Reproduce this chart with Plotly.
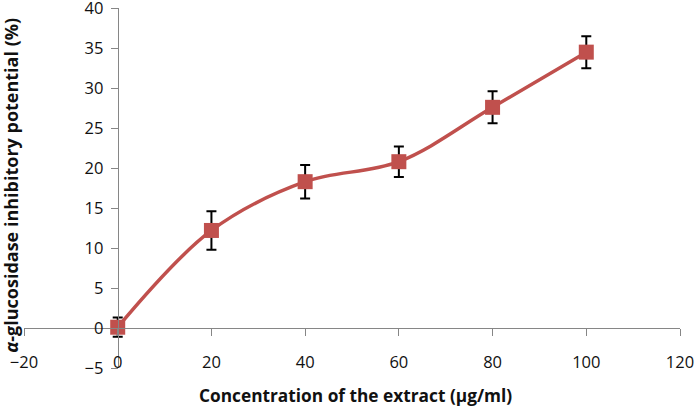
import plotly.graph_objects as go

concentration = [0, 20, 40, 60, 80, 100]
inhibition = [0.1, 12.2, 18.3, 20.8, 27.6, 34.5]
error = [1.2, 2.4, 2.1, 1.9, 2.0, 2.0]

x_ticks = [-20, 0, 20, 40, 60, 80, 100, 120]
y_ticks = [-5, 0, 5, 10, 15, 20, 25, 30, 35, 40]

red = "#C0504D"
axis_gray = "#868686"
font_family = "Open Sans, Liberation Sans, sans-serif"

fig = go.Figure()

fig.add_trace(go.Scatter(
    x=concentration, y=inhibition,
    mode="lines+markers",
    line=dict(color=red, width=3.5, shape="spline", smoothing=1.0),
    marker=dict(symbol="square", size=15, color=red),
    error_y=dict(type="data", array=error, visible=True,
                 color="black", thickness=2, width=5),
    showlegend=False,
))

# invisible trace to attach the axis line drawn through y=0
fig.add_trace(go.Scatter(
    x=concentration, y=inhibition, xaxis="x2", mode="none",
    showlegend=False, hoverinfo="skip",
))

fig.update_layout(
    width=695, height=407, autosize=False,
    margin=dict(l=24, r=15, t=8, b=39, autoexpand=False),
    plot_bgcolor="white", paper_bgcolor="white",
    font=dict(family=font_family, size=16.5, color="#111111"),
    xaxis=dict(
        range=[-20, 120], tickmode="array", tickvals=x_ticks,
        ticktext=["\u221220" if v < 0 else str(v) for v in x_ticks],
        showline=False, ticks="", showgrid=False, zeroline=False,
        ticklabelstandoff=-18, automargin=False,
    ),
    xaxis2=dict(
        overlaying="x", matches="x", anchor="free", position=5 / 45,
        range=[-20, 120], tickmode="array", tickvals=x_ticks,
        showline=True, linecolor=axis_gray, linewidth=1,
        ticks="outside", ticklen=7, tickcolor=axis_gray,
        showticklabels=False, showgrid=False, zeroline=False,
        automargin=False,
    ),
    yaxis=dict(
        range=[-5, 40.02], tickmode="array", tickvals=y_ticks,
        ticktext=["\u22125" if v < 0 else str(v) for v in y_ticks],
        anchor="free", position=20 / 140,
        showline=True, linecolor=axis_gray, linewidth=1,
        ticks="outside", ticklen=7, tickcolor=axis_gray,
        showgrid=False, zeroline=False, ticklabelstandoff=4,
        ticklabeloverflow="allow", automargin=False,
    ),
    annotations=[
        dict(text="<b>Concentration of the extract (\u00b5g/ml)</b>",
             xref="paper", yref="paper", x=0.5046, y=-0.075,
             xanchor="center", yanchor="middle", showarrow=False,
             font=dict(size=17.3, color="#111111")),
        dict(text="<b><i>\u03b1</i>-glucosidase inhibitory potential (%)</b>",
             xref="paper", yref="paper", x=-0.019, y=0.508,
             xanchor="center", yanchor="middle", showarrow=False,
             textangle=-90,
             font=dict(size=18, color="#111111")),
    ],
)

fig.write_html(
    "out.html",
    config={"displayModeBar": False},
    post_script="document.body.style.margin='0';document.body.style.padding='0';",
)
